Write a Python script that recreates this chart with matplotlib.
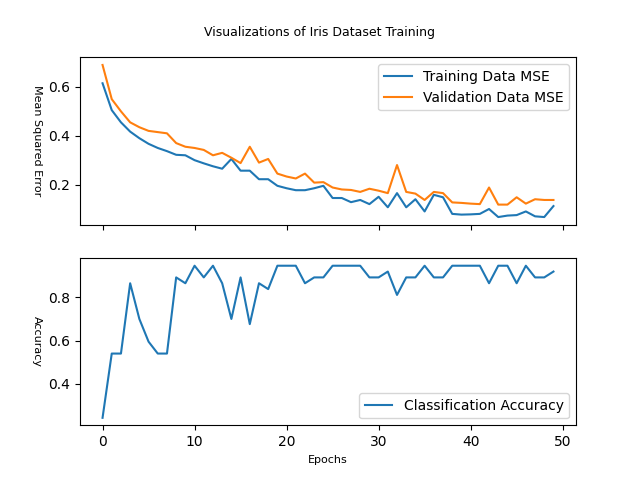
import matplotlib
matplotlib.use("Agg")
import matplotlib.pyplot as plt

epochs = list(range(50))
train_mse = [0.615,0.505,0.455,0.417,0.39,0.367,0.35,0.337,0.322,0.32,0.30,0.287,0.275,0.265,0.305,0.257,0.257,0.222,0.222,0.195,0.185,0.177,0.177,0.185,0.195,0.145,0.145,0.128,0.137,0.12,0.15,0.107,0.165,0.107,0.14,0.09,0.158,0.148,0.08,0.077,0.078,0.08,0.1,0.067,0.073,0.075,0.09,0.07,0.067,0.112]
val_mse = [0.69,0.55,0.50,0.455,0.435,0.42,0.415,0.41,0.37,0.355,0.35,0.342,0.32,0.33,0.31,0.288,0.355,0.29,0.305,0.245,0.233,0.225,0.245,0.208,0.21,0.188,0.18,0.178,0.17,0.183,0.175,0.165,0.28,0.17,0.163,0.137,0.17,0.165,0.127,0.125,0.122,0.12,0.188,0.118,0.118,0.148,0.122,0.14,0.137,0.137]
accuracy = [0.243,0.54,0.54,0.865,0.70,0.595,0.54,0.54,0.892,0.865,0.946,0.892,0.946,0.865,0.70,0.892,0.676,0.865,0.838,0.946,0.946,0.946,0.865,0.892,0.892,0.946,0.946,0.946,0.946,0.892,0.892,0.919,0.811,0.892,0.892,0.946,0.892,0.892,0.946,0.946,0.946,0.946,0.865,0.946,0.946,0.865,0.946,0.892,0.892,0.919]

fig, (ax1, ax2) = plt.subplots(2, 1, sharex=True, figsize=(6.4, 4.78), dpi=100)
fig.suptitle("Visualizations of Iris Dataset Training", fontsize=9, y=0.945)
ax1.plot(epochs, train_mse, label="Training Data MSE")
ax1.plot(epochs, val_mse, label="Validation Data MSE")
ax1.set_ylabel("Mean Squared Error", fontsize=8, rotation=-90, labelpad=12)
ax1.legend(loc="upper right")
ax2.plot(epochs, accuracy, label="Classification Accuracy")
ax2.set_ylabel("Accuracy", fontsize=8, rotation=-90, labelpad=12)
ax2.set_xlabel("Epochs", fontsize=8)
ax2.legend(loc="lower right")
fig.savefig("out.png")
